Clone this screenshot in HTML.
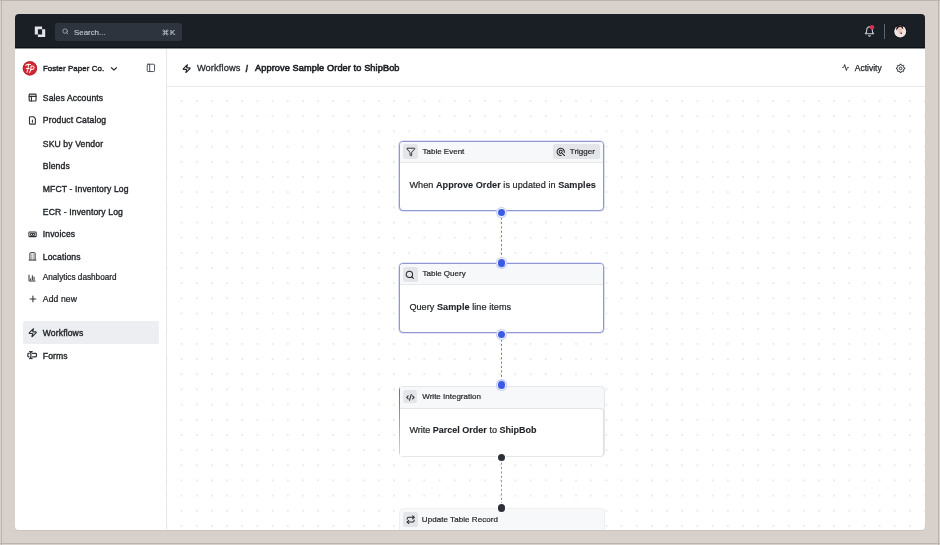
<!DOCTYPE html><html><head><meta charset="utf-8"><style>
*{margin:0;padding:0;box-sizing:border-box}
html,body{width:940px;height:545px;overflow:hidden;background:#d8d0cb;font-family:"Liberation Sans",sans-serif}
.win{will-change:transform;position:absolute;left:0;top:0;width:940px;height:545px;clip-path:inset(14px 15px 15px 15px round 4px);background:linear-gradient(#1a1f26 0 47px,#fff 47px)}
.t{position:absolute;white-space:nowrap;line-height:1;color:#1e2125}
.med{-webkit-text-stroke:0.2px currentColor}
.body{-webkit-text-stroke:0.2px currentColor;letter-spacing:0.05px}
.body b{-webkit-text-stroke:0.1px currentColor}
.abs{position:absolute}
svg{position:absolute;overflow:visible}
</style></head><body>
<div class="abs" style="left:1px;top:0;width:1px;height:545px;background:#bab3af"></div>
<div class="abs" style="left:0;top:0;width:940px;height:1px;background:#bab3af"></div>
<div class="abs" style="left:938px;top:0;width:1px;height:545px;background:#bab3af"></div>
<div class="abs" style="left:0;top:543px;width:940px;height:1px;background:#bab3af"></div>
<div class="abs" style="left:17px;top:530px;width:906px;height:1px;background:#cac3bf"></div>
<div class="win">
<div class="abs" style="left:15px;top:14px;width:910px;height:33px;background:#1a1f26"></div><div class="abs" style="left:15px;top:47px;width:910px;height:1px;background:#0c1016"></div><div class="abs" style="left:15px;top:48px;width:910px;height:1px;background:#8a8d91"></div>
<svg style="left:0;top:0" width="60" height="60"><path fill-rule="evenodd" fill="#e2e4e7" d="M34.8 26.6 H42.1 V34.5 H34.8 Z M37.9 29.3 H45.2 V37 H37.9 Z"/></svg>
<div class="abs" style="left:55px;top:23px;width:127px;height:18px;border-radius:3px;background:#2e343d"></div>
<svg class="ic" style="left:61.72px;top:28.12px;width:6.76px;height:6.76px" viewBox="0 0 24 24" fill="none" stroke="#b4bac2" stroke-width="2.6" stroke-linecap="round" stroke-linejoin="round" ><circle cx="11" cy="11" r="8"/><path d="m21 21-4.3-4.3"/></svg>
<div class="t " style="left:74px;top:28.61px;font-size:7.9px;color:#c0c5cc;-webkit-text-stroke:0.15px #c0c5cc">Search...</div>
<svg class="ic" style="left:162.33px;top:28.63px;width:6.94px;height:6.94px" viewBox="0 0 24 24" fill="none" stroke="#c0c5cc" stroke-width="2.4" stroke-linecap="round" stroke-linejoin="round" ><path d="M15 6v12a3 3 0 1 0 3-3H6a3 3 0 1 0 3 3V6a3 3 0 1 0-3 3h12a3 3 0 1 0-3-3"/></svg>
<div class="t " style="left:170px;top:28.51px;font-size:7.9px;color:#c0c5cc;-webkit-text-stroke:0.15px #c0c5cc">K</div>
<svg class="ic" style="left:863.89px;top:25.84px;width:11.03px;height:11.03px" viewBox="0 0 24 24" fill="none" stroke="#c9cdd3" stroke-width="2.4" stroke-linecap="round" stroke-linejoin="round" ><path d="M6 8a6 6 0 0 1 12 0c0 7 3 9 3 9H3s3-2 3-9"/><path d="M10.3 21a1.94 1.94 0 0 0 3.4 0"/></svg>
<svg style="left:0;top:0" width="940" height="60"><circle cx="872" cy="27.3" r="2.3" fill="#d42f55"/></svg>
<div class="abs" style="left:884.3px;top:24.2px;width:1px;height:14.8px;background:#5c6570"></div>
<svg style="left:0;top:0" width="940" height="60"><circle cx="900.2" cy="31.3" r="6.7" fill="#07090d"/><circle cx="900.2" cy="31.4" r="6.0" fill="#f0e3e1"/><path d="M896.2 30.5 Q895.8 26.8 898.2 25.8 Q900.8 24.9 902.8 26.2 L903.3 29.5 L902.2 28.6 Q902 27.2 900.2 27.1 Q898.2 27.1 897.8 28.6 Z" fill="#2a1a18"/><ellipse cx="900.1" cy="30.6" rx="2.2" ry="2.8" fill="#e7c3b8"/><circle cx="901.2" cy="33.3" r="0.8" fill="#3a1212"/></svg>
<div class="abs" style="left:166px;top:48.6px;width:1px;height:482px;background:#e6e8eb"></div>
<svg style="left:0;top:0" width="200" height="100"><circle cx="29.9" cy="68.35" r="7.1" fill="#d02532"/><circle cx="29.9" cy="68.35" r="6.8" fill="none" stroke="#b01b27" stroke-width="0.6"/><g fill="none" stroke="#fff3f0" stroke-width="1.05" stroke-linecap="round"><path d="M25.6 65.3 Q27.5 63.9 30.6 64.6"/><path d="M28.4 64.9 Q28.6 68.5 26.9 72.2"/><path d="M26.3 68.4 H29.2"/><path d="M31.2 66.2 Q31 70 29.6 72.6"/><path d="M31.2 66.2 Q34.6 65.6 34 68 Q33.3 69.8 30.7 69.6"/></g></svg>
<div class="t " style="left:42.9px;top:64.61px;font-size:7.9px;-webkit-text-stroke:0.4px #1e2125;letter-spacing:0.08px">Foster Paper Co.</div>
<svg class="ic" style="left:109.37px;top:63.57px;width:9.87px;height:9.87px" viewBox="0 0 24 24" fill="none" stroke="#2f3338" stroke-width="3.0" stroke-linecap="round" stroke-linejoin="round" ><path d="m6 9 6 6 6-6"/></svg>
<svg class="ic" style="left:146.27px;top:63.37px;width:9.76px;height:9.76px" viewBox="0 0 24 24" fill="none" stroke="#4a4e55" stroke-width="2.4" stroke-linecap="round" stroke-linejoin="round" ><rect width="18" height="18" x="3" y="3" rx="2"/><path d="M9 3v18"/></svg>
<div class="abs" style="left:23px;top:321.3px;width:136px;height:22.7px;border-radius:2px;background:#eceef1"></div>
<div class="t " style="left:42.8px;top:93.92px;font-size:8.6px;-webkit-text-stroke:0.36px #1e2125;letter-spacing:0.12px">Sales Accounts</div>
<div class="t " style="left:42.8px;top:116.32px;font-size:8.6px;-webkit-text-stroke:0.36px #1e2125;letter-spacing:0.12px">Product Catalog</div>
<div class="t " style="left:42.8px;top:139.52px;font-size:8.6px;-webkit-text-stroke:0.36px #1e2125;letter-spacing:0.12px">SKU by Vendor</div>
<div class="t " style="left:42.8px;top:162.22px;font-size:8.6px;-webkit-text-stroke:0.36px #1e2125;letter-spacing:0.12px">Blends</div>
<div class="t " style="left:42.8px;top:185.22px;font-size:8.6px;-webkit-text-stroke:0.36px #1e2125;letter-spacing:0.12px">MFCT - Inventory Log</div>
<div class="t " style="left:42.8px;top:208.32px;font-size:8.6px;-webkit-text-stroke:0.36px #1e2125;letter-spacing:0.12px">ECR - Inventory Log</div>
<div class="t " style="left:42.8px;top:230.32px;font-size:8.6px;-webkit-text-stroke:0.36px #1e2125;letter-spacing:0.12px">Invoices</div>
<div class="t " style="left:42.8px;top:253.32px;font-size:8.6px;-webkit-text-stroke:0.36px #1e2125;letter-spacing:0.12px">Locations</div>
<div class="t " style="left:42.8px;top:274.46px;font-size:8.200000000000001px;-webkit-text-stroke:0.24px #1e2125;letter-spacing:0.0px">Analytics dashboard</div>
<div class="t " style="left:42.8px;top:295.02px;font-size:8.6px;-webkit-text-stroke:0.24px #1e2125;letter-spacing:0.12px">Add new</div>
<div class="t " style="left:42.8px;top:328.92px;font-size:8.6px;-webkit-text-stroke:0.36px #1e2125;letter-spacing:0.12px">Workflows</div>
<div class="t " style="left:42.8px;top:351.72px;font-size:8.6px;-webkit-text-stroke:0.36px #1e2125;letter-spacing:0.12px">Forms</div>
<svg class="ic" style="left:27.85px;top:92.60px;width:9.20px;height:9.20px" viewBox="0 0 24 24" fill="none" stroke="#2f3338" stroke-width="3.0" stroke-linecap="round" stroke-linejoin="round" ><rect width="18" height="18" x="3" y="3" rx="2"/><path d="M3 9h18"/><path d="M9 9v12"/></svg>
<svg class="ic" style="left:27.77px;top:115.57px;width:8.86px;height:8.86px" viewBox="0 0 24 24" fill="none" stroke="#2f3338" stroke-width="3.0" stroke-linecap="round" stroke-linejoin="round" ><path d="M15 2H6a2 2 0 0 0-2 2v16a2 2 0 0 0 2 2h12a2 2 0 0 0 2-2V7Z"/><path d="M12 11v6"/></svg>
<svg style="left:0;top:0" width="60" height="400" fill="none" stroke="#2f3338" stroke-width="1.05"><rect x="28.9" y="232" width="7.3" height="4.6" rx="0.7"/><circle cx="31.5" cy="234.3" r="1.15"/><circle cx="33.6" cy="234.3" r="1.15"/></svg>
<svg style="left:0;top:0" width="60" height="400" fill="none" stroke="#2f3338" stroke-width="1.0"><path d="M29.9 260.1 V253.2 Q29.9 252.7 30.4 252.7 H34.6 Q35.1 252.7 35.1 253.2 V260.1"/><path d="M28.7 260.1 H36.3"/><path d="M31.7 254.6 v0.9 M33.3 254.6 v0.9 M31.7 256.6 v0.9 M33.3 256.6 v0.9 M31.7 258.5 v0.9 M33.3 258.5 v0.9" stroke-width="0.9"/></svg>
<svg class="ic" style="left:28.12px;top:274.07px;width:8.06px;height:8.06px" viewBox="0 0 24 24" fill="none" stroke="#2f3338" stroke-width="3.0" stroke-linecap="round" stroke-linejoin="round" ><path d="M3 3v16a2 2 0 0 0 2 2h16"/><path d="M18 17V9"/><path d="M13 17V5"/><path d="M8 17v-3"/></svg>
<svg class="ic" style="left:27.53px;top:293.53px;width:9.83px;height:9.83px" viewBox="0 0 24 24" fill="none" stroke="#2f3338" stroke-width="2.6" stroke-linecap="round" stroke-linejoin="round" ><path d="M5 12h14"/><path d="M12 5v14"/></svg>
<svg class="ic" style="left:27.68px;top:327.63px;width:9.43px;height:9.43px" viewBox="0 0 24 24" fill="none" stroke="#2f3338" stroke-width="3.0" stroke-linecap="round" stroke-linejoin="round" ><path d="M4 14a1 1 0 0 1-.78-1.63l9.9-10.2a.5.5 0 0 1 .86.46l-1.92 6.02A1 1 0 0 0 13 10h7a1 1 0 0 1 .78 1.63l-9.9 10.2a.5.5 0 0 1-.86-.46l1.92-6.02A1 1 0 0 0 11 14z"/></svg>
<svg class="ic" style="left:27.09px;top:350.09px;width:10.31px;height:10.31px" viewBox="0 0 24 24" fill="none" stroke="#2f3338" stroke-width="2.9" stroke-linecap="round" stroke-linejoin="round" ><path d="M12 20h-1a2 2 0 0 1-2-2 2 2 0 0 1-2 2H6"/><path d="M13 8h7a2 2 0 0 1 2 2v4a2 2 0 0 1-2 2h-7"/><path d="M5 16H4a2 2 0 0 1-2-2v-4a2 2 0 0 1 2-2h1"/><path d="M6 4h1a2 2 0 0 1 2 2 2 2 0 0 1 2-2h1"/><path d="M9 6v12"/></svg>
<div class="abs" style="left:167px;top:86px;width:758px;height:1px;background:#e7e9ec"></div>
<svg class="ic" style="left:182.25px;top:63.75px;width:9.31px;height:9.31px" viewBox="0 0 24 24" fill="none" stroke="#25282d" stroke-width="2.9" stroke-linecap="round" stroke-linejoin="round" ><path d="M4 14a1 1 0 0 1-.78-1.63l9.9-10.2a.5.5 0 0 1 .86.46l-1.92 6.02A1 1 0 0 0 13 10h7a1 1 0 0 1 .78 1.63l-9.9 10.2a.5.5 0 0 1-.86-.46l1.92-6.02A1 1 0 0 0 11 14z"/></svg>
<div class="t " style="left:196.9px;top:63.73px;font-size:9.3px;-webkit-text-stroke:0.3px #2b2e33;color:#2b2e33;letter-spacing:0.1px">Workflows</div>
<div class="t " style="left:245.6px;top:63.84px;font-size:9.4px;font-weight:bold;-webkit-text-stroke:0.3px #1e2125">/</div>
<div class="t " style="left:255px;top:63.81px;font-size:9.2px;-webkit-text-stroke:0.6px #1e2125;letter-spacing:0.1px">Approve Sample Order to ShipBob</div>
<svg class="ic" style="left:842.13px;top:64.38px;width:7.04px;height:7.04px" viewBox="0 0 24 24" fill="none" stroke="#25282d" stroke-width="3.0" stroke-linecap="round" stroke-linejoin="round" ><path d="M22 12h-2.48a2 2 0 0 0-1.93 1.46l-2.35 8.36a.25.25 0 0 1-.48 0L9.24 2.18a.25.25 0 0 0-.48 0l-2.35 8.36A2 2 0 0 1 4.49 12H2"/></svg>
<div class="t " style="left:854.8px;top:64.00px;font-size:8.5px;-webkit-text-stroke:0.25px #1e2125">Activity</div>
<svg style="left:0;top:0" width="940" height="100"><path d="M899.88 65.18 L900.06 64.24 L901.14 64.24 L901.32 65.18 L902.37 65.61 L903.16 65.07 L903.93 65.84 L903.39 66.63 L903.82 67.68 L904.76 67.86 L904.76 68.94 L903.82 69.12 L903.39 70.17 L903.93 70.96 L903.16 71.73 L902.37 71.19 L901.32 71.62 L901.14 72.56 L900.06 72.56 L899.88 71.62 L898.83 71.19 L898.04 71.73 L897.27 70.96 L897.81 70.17 L897.38 69.12 L896.44 68.94 L896.44 67.86 L897.38 67.68 L897.81 66.63 L897.27 65.84 L898.04 65.07 L898.83 65.61 Z" fill="none" stroke="#25282d" stroke-width="0.95" stroke-linejoin="round"/><circle cx="900.6" cy="68.4" r="1.35" fill="none" stroke="#25282d" stroke-width="0.95"/></svg>
<svg style="left:167px;top:87px" width="758" height="443"><defs><pattern id="dp" patternUnits="userSpaceOnUse" width="15.173" height="15.173" x="7.013" y="6.513"><circle cx="7.5865" cy="7.5865" r="0.72" fill="#cbccd0"/></pattern></defs><rect width="758" height="443" fill="url(#dp)"/></svg>
<div class="abs" style="left:399px;top:140.8px;width:205px;height:70px;border:1.2px solid #9196d4;box-shadow:0 0 0 0.6px rgba(150,155,215,0.55);border-radius:4px;background:#fff;overflow:hidden"><div class="abs" style="left:0;top:0;right:0;height:21.2px;background:#f7f8fa;border-bottom:1px solid #e8e9ed"></div></div>
<div class="abs" style="left:403.2px;top:144.4px;width:14.5px;height:14.7px;border-radius:2.5px;background:#e3e5e9"></div>
<div class="abs" style="left:553px;top:144.3px;width:47px;height:14.3px;border-radius:2.5px;background:#e3e5e9"></div>
<svg class="ic" style="left:405.61px;top:146.71px;width:9.68px;height:9.68px" viewBox="0 0 24 24" fill="none" stroke="#25282d" stroke-width="2.3" stroke-linecap="round" stroke-linejoin="round" ><path d="M10 20a1 1 0 0 0 .553.895l2 1A1 1 0 0 0 14 21v-7a2 2 0 0 1 .517-1.341L21.74 4.67A1 1 0 0 0 21 3H3a1 1 0 0 0-.742 1.67l7.225 7.989A2 2 0 0 1 10 14z"/></svg>
<svg class="ic" style="left:556.49px;top:146.74px;width:9.73px;height:9.73px" viewBox="0 0 24 24" fill="none" stroke="#25282d" stroke-width="2.6" stroke-linecap="round" stroke-linejoin="round" ><path d="M20.5 13.5A9 9 0 1 0 13 20.9"/><path d="M15.6 10.5A4 4 0 1 0 12 16"/><path d="M13 13 L21 21"/></svg>
<div class="t med" style="left:422.5px;top:147.83px;font-size:8.0px;">Table Event</div>
<div class="t med" style="left:569.8px;top:147.83px;font-size:8.0px;">Trigger</div>
<div class="t body" style="left:409.4px;top:180.60px;font-size:9.1px;">When <b>Approve Order</b> is updated in <b>Samples</b></div>
<div class="abs" style="left:399px;top:263.2px;width:205px;height:69.8px;border:1.2px solid #9196d4;box-shadow:0 0 0 0.6px rgba(150,155,215,0.55);border-radius:4px;background:#fff;overflow:hidden"><div class="abs" style="left:0;top:0;right:0;height:21.2px;background:#f7f8fa;border-bottom:1px solid #e8e9ed"></div></div>
<div class="abs" style="left:403.3px;top:267px;width:14.6px;height:14.7px;border-radius:2.5px;background:#e3e5e9"></div>
<svg class="ic" style="left:405.42px;top:269.72px;width:9.55px;height:9.55px" viewBox="0 0 24 24" fill="none" stroke="#25282d" stroke-width="2.6" stroke-linecap="round" stroke-linejoin="round" ><circle cx="11" cy="11" r="8"/><path d="m21 21-4.3-4.3"/></svg>
<div class="t med" style="left:422.5px;top:270.13px;font-size:8.0px;">Table Query</div>
<div class="t body" style="left:409.4px;top:302.90px;font-size:9.1px;">Query <b>Sample</b> line items</div>
<div class="abs" style="left:398.6px;top:386px;width:206.4px;height:70.9px;border-radius:4.5px;background:linear-gradient(#5864b8,#9aa0d6 55%,#d5d7e3) left top/1.5px 100% no-repeat,#e6e7eb;overflow:hidden"><div class="abs" style="left:1.5px;top:1px;right:1px;bottom:1px;border-radius:0 3.5px 3.5px 0;background:#f7f8fa"></div><div class="abs" style="left:1.5px;top:21.6px;right:1px;bottom:1px;border-radius:0 4px 3.5px 0;background:#fff;border-top:1px solid #e2e3e7;border-right:1px solid #dfe0e4"></div></div>
<div class="abs" style="left:402.9px;top:389.7px;width:14.5px;height:13.7px;border-radius:2.5px;background:#e3e5e9"></div>
<svg class="ic" style="left:406.41px;top:392.61px;width:8.77px;height:8.77px" viewBox="0 0 24 24" fill="none" stroke="#25282d" stroke-width="2.8" stroke-linecap="round" stroke-linejoin="round" ><path d="m18 16 4-4-4-4"/><path d="m6 8-4 4 4 4"/><path d="m14.5 4-5 16"/></svg>
<div class="t med" style="left:422.3px;top:393.03px;font-size:8.0px;">Write Integration</div>
<div class="t body" style="left:409.5px;top:426.38px;font-size:9.0px;letter-spacing:0">Write <b>Parcel Order</b> to <b>ShipBob</b></div>
<div class="abs" style="left:398.6px;top:508.4px;width:206.4px;height:40px;border:1px solid #eeeff1;border-radius:4.5px;background:#f7f8fa"></div>
<div class="abs" style="left:403.2px;top:511.7px;width:14.6px;height:15.1px;border-radius:2.5px;background:#e3e5e9"></div>
<svg class="ic" style="left:405.72px;top:515.12px;width:9.35px;height:9.35px" viewBox="0 0 24 24" fill="none" stroke="#25282d" stroke-width="2.6" stroke-linecap="round" stroke-linejoin="round" ><path d="m17 2 4 4-4 4"/><path d="M3 11v-1a4 4 0 0 1 4-4h14"/><path d="m7 22-4-4 4-4"/><path d="M21 13v1a4 4 0 0 1-4 4H3"/></svg>
<div class="t med" style="left:421.8px;top:516.03px;font-size:8.0px;letter-spacing:0.06px">Update Table Record</div>
<svg style="left:0;top:0" width="940" height="545"><path d="M501.5 217.5 V258" stroke="#777ea8" stroke-width="1" stroke-dasharray="2.2 2.2"/></svg>
<svg style="left:0;top:0" width="940" height="545"><path d="M501.5 339.5 V380.5" stroke="#777ea8" stroke-width="1" stroke-dasharray="2.2 2.2"/></svg>
<svg style="left:0;top:0" width="940" height="545"><path d="M501.5 462.5 V503.5" stroke="#92959c" stroke-width="1" stroke-dasharray="2.2 2.2"/></svg>
<div class="abs" style="left:495.60px;top:206.50px;width:11.80px;height:11.80px;border-radius:50%;background:#c8d2f6"></div><div class="abs" style="left:496.80px;top:207.70px;width:9.4px;height:9.4px;border-radius:50%;background:#eef1fd"></div><div class="abs" style="left:497.60px;top:208.50px;width:7.80px;height:7.80px;border-radius:50%;background:#3a5be4"></div>
<div class="abs" style="left:495.60px;top:256.90px;width:11.80px;height:11.80px;border-radius:50%;background:#c8d2f6"></div><div class="abs" style="left:496.80px;top:258.10px;width:9.4px;height:9.4px;border-radius:50%;background:#eef1fd"></div><div class="abs" style="left:497.60px;top:258.90px;width:7.80px;height:7.80px;border-radius:50%;background:#3a5be4"></div>
<div class="abs" style="left:495.60px;top:328.60px;width:11.80px;height:11.80px;border-radius:50%;background:#c8d2f6"></div><div class="abs" style="left:496.80px;top:329.80px;width:9.4px;height:9.4px;border-radius:50%;background:#eef1fd"></div><div class="abs" style="left:497.60px;top:330.60px;width:7.80px;height:7.80px;border-radius:50%;background:#3a5be4"></div>
<div class="abs" style="left:495.60px;top:379.30px;width:11.80px;height:11.80px;border-radius:50%;background:#c8d2f6"></div><div class="abs" style="left:496.80px;top:380.50px;width:9.4px;height:9.4px;border-radius:50%;background:#eef1fd"></div><div class="abs" style="left:497.60px;top:381.30px;width:7.80px;height:7.80px;border-radius:50%;background:#3a5be4"></div>
<div class="abs" style="left:496.60px;top:452.70px;width:9.80px;height:9.80px;border-radius:50%;background:#ffffff"></div><div class="abs" style="left:497.60px;top:453.70px;width:7.80px;height:7.80px;border-radius:50%;background:#2c3038"></div>
<div class="abs" style="left:496.60px;top:503.30px;width:9.80px;height:9.80px;border-radius:50%;background:#ffffff"></div><div class="abs" style="left:497.60px;top:504.30px;width:7.80px;height:7.80px;border-radius:50%;background:#2c3038"></div>
</div>
</body></html>
